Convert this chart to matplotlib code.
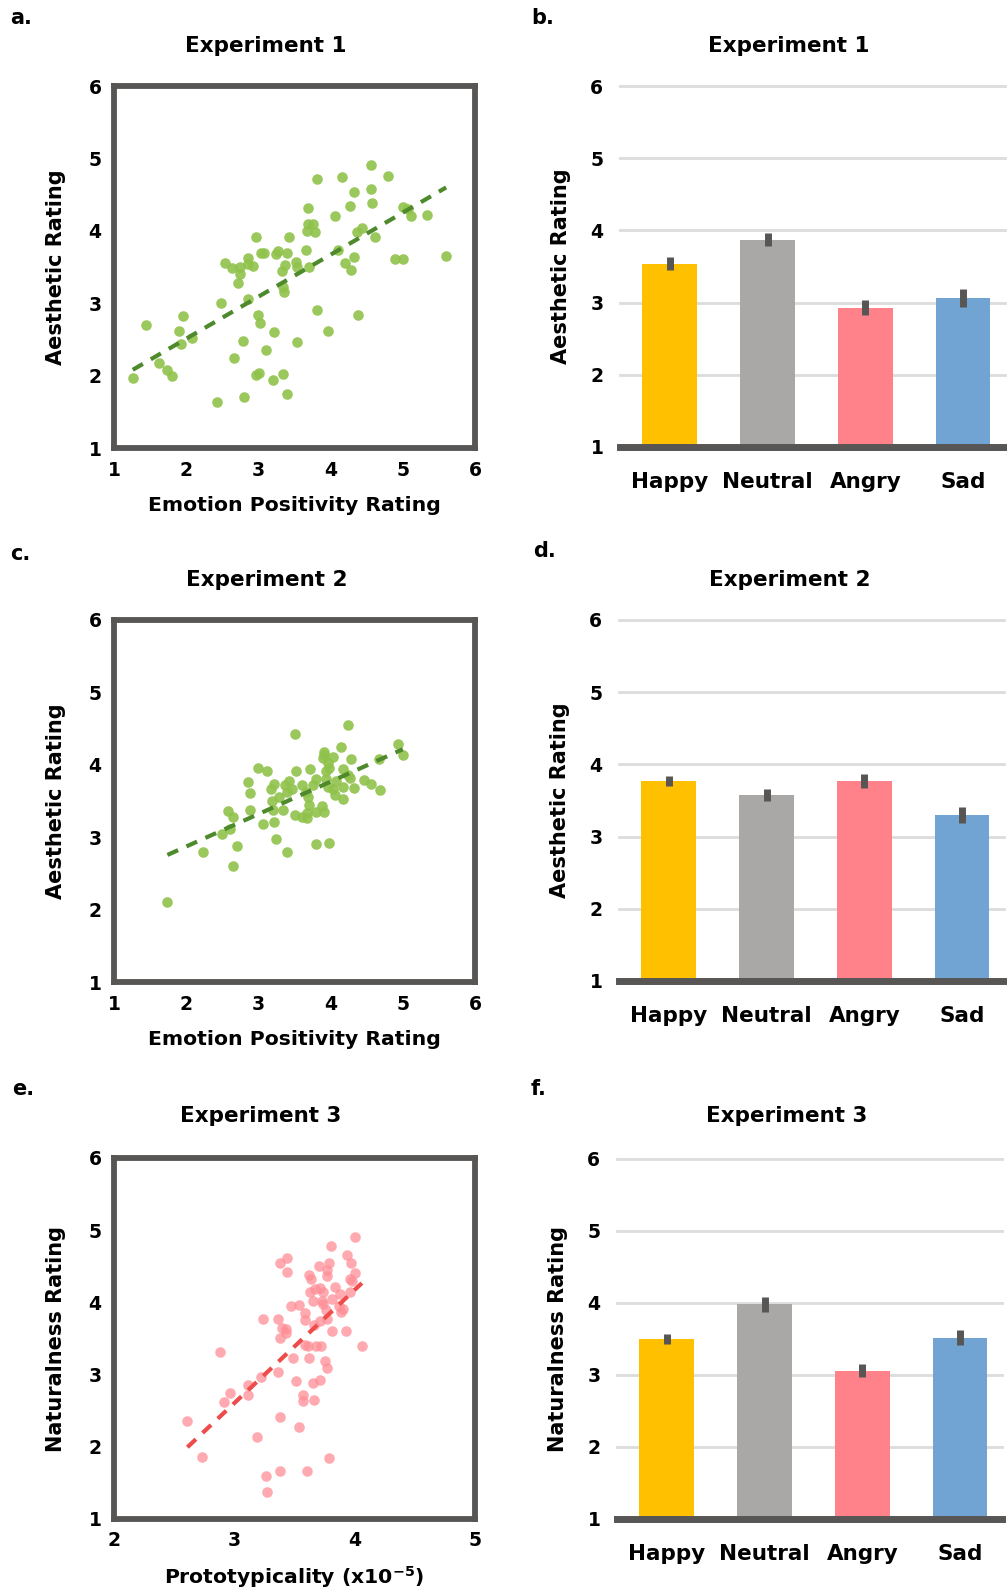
import matplotlib
matplotlib.use("Agg")
import matplotlib.pyplot as plt
import numpy as np

plt.rcParams['font.family'] = ['DejaVu Sans']
plt.rcParams['font.weight'] = 'bold'
plt.rcParams['mathtext.fontset'] = 'dejavusans'

# experiment 1: emotion positivity vs aesthetic rating (one dot per face)
exp1_pos = [1.26, 1.44, 1.62, 1.74, 1.80, 1.90, 1.96, 1.93, 2.08, 2.42, 2.48, 2.54, 2.64, 2.74,
            2.74, 2.72, 2.86, 2.86, 2.93, 2.86, 2.66, 2.78, 2.80, 2.96, 3.00, 3.02, 2.96, 3.01,
            3.10, 3.21, 3.20, 3.34, 3.40, 3.04, 3.08, 3.24, 3.27, 3.40, 3.42, 3.32, 3.37, 3.34,
            3.35, 3.52, 3.53, 3.66, 3.70, 3.54, 3.69, 3.69, 3.76, 3.68, 3.78, 3.81, 3.81, 3.96,
            4.06, 4.10, 4.16, 4.20, 4.28, 4.33, 4.27, 4.33, 4.36, 4.44, 4.38, 4.56, 4.56, 4.57,
            4.62, 4.80, 5.00, 5.07, 5.11, 5.34, 4.89, 5.00, 5.60]
exp1_aes = [1.96, 2.70, 2.18, 2.08, 2.00, 2.62, 2.82, 2.44, 2.52, 1.64, 3.00, 3.56, 3.49, 3.50,
            3.40, 3.28, 3.63, 3.54, 3.52, 3.06, 2.24, 2.48, 1.71, 3.91, 2.84, 2.72, 2.01, 2.04,
            2.36, 2.60, 1.94, 2.02, 1.74, 3.70, 3.70, 3.68, 3.72, 3.70, 3.92, 3.44, 3.53, 3.22,
            3.16, 3.57, 3.50, 3.73, 3.50, 2.46, 4.31, 4.10, 4.09, 4.00, 3.98, 4.71, 2.91, 2.62,
            4.21, 3.74, 4.75, 3.55, 3.46, 3.64, 4.34, 4.54, 3.98, 4.04, 2.84, 4.91, 4.58, 4.39,
            3.92, 4.76, 4.33, 4.30, 4.21, 4.22, 3.61, 3.61, 3.65]

# experiment 2
exp2_pos = [1.74, 2.23, 2.65, 2.71, 2.49, 2.60, 2.58, 2.65, 2.85, 2.88, 2.89, 3.00, 3.12, 3.06,
            3.24, 3.39, 3.22, 3.20, 3.19, 3.18, 3.22, 3.28, 3.34, 3.37, 3.43, 3.39, 3.46, 3.52,
            3.50, 3.50, 3.60, 3.68, 3.68, 3.60, 3.66, 3.69, 3.70, 3.72, 3.76, 3.80, 3.80, 3.88,
            3.91, 3.80, 3.98, 3.91, 3.91, 3.90, 3.96, 3.98, 3.93, 3.93, 3.96, 4.04, 4.03, 4.06,
            4.07, 4.14, 4.17, 4.17, 4.17, 4.24, 4.27, 4.24, 4.28, 4.32, 4.46, 4.56, 4.67, 4.68,
            4.94, 5.00]
exp2_aes = [2.10, 2.80, 2.60, 2.88, 3.04, 3.11, 3.36, 3.28, 3.76, 3.61, 3.37, 3.95, 3.91, 3.18,
            2.97, 2.80, 3.21, 3.38, 3.50, 3.66, 3.74, 3.55, 3.38, 3.72, 3.77, 3.62, 3.67, 3.91,
            4.43, 3.30, 3.28, 3.26, 3.33, 3.72, 3.63, 3.56, 3.44, 3.94, 3.72, 3.80, 3.35, 3.43,
            3.35, 2.91, 2.92, 4.18, 4.13, 4.09, 4.02, 3.95, 3.91, 3.80, 3.70, 4.11, 3.67, 3.58,
            3.78, 4.25, 3.94, 3.70, 3.53, 3.86, 3.82, 4.55, 4.08, 3.68, 3.79, 3.73, 4.08, 3.65,
            4.29, 4.13]

# experiment 3: prototypicality (x10^-5) vs naturalness
exp3_proto = [2.61, 2.73, 2.88, 2.91, 2.96, 3.11, 3.11, 3.19, 3.22, 3.24, 3.26, 3.27, 3.36, 3.36,
              3.38, 3.38, 3.38, 3.44, 3.44, 3.40, 3.43, 3.43, 3.38, 3.47, 3.54, 3.49, 3.51, 3.54,
              3.57, 3.57, 3.60, 3.59, 3.59, 3.59, 3.61, 3.62, 3.65, 3.66, 3.71, 3.75, 3.77, 3.62,
              3.64, 3.70, 3.63, 3.67, 3.71, 3.74, 3.65, 3.73, 3.74, 3.76, 3.71, 3.77, 3.66, 3.68,
              3.72, 3.79, 3.77, 3.77, 3.80, 3.81, 3.81, 3.79, 3.84, 3.88, 3.87, 3.89, 3.90, 3.93,
              3.94, 3.97, 3.96, 3.98, 4.00, 3.96, 4.00, 4.06]
exp3_nat = [2.36, 1.86, 3.31, 2.62, 2.75, 2.72, 2.85, 2.13, 2.97, 3.77, 1.60, 1.38, 3.03, 3.77,
            2.41, 1.66, 4.54, 4.62, 4.42, 3.65, 3.63, 3.57, 3.51, 3.95, 3.97, 3.23, 2.91, 2.27,
            2.72, 2.64, 1.66, 3.86, 3.75, 3.41, 3.40, 3.23, 2.89, 2.65, 2.93, 3.19, 3.09, 4.38,
            4.33, 4.51, 4.14, 4.18, 4.20, 4.14, 4.02, 4.02, 3.98, 3.90, 3.74, 3.77, 3.69, 3.39,
            3.39, 4.54, 4.45, 4.36, 4.78, 4.05, 3.61, 1.84, 4.22, 4.11, 3.95, 3.87, 3.91, 3.61,
            4.66, 4.54, 4.33, 4.30, 4.41, 4.14, 4.90, 3.39]

# mean ratings per emotion category, with error bars
emotions = ['Happy', 'Neutral', 'Angry', 'Sad']
exp1_means = [3.54, 3.87, 2.93, 3.06]
exp1_err = [0.09, 0.09, 0.10, 0.125]
exp2_means = [3.77, 3.58, 3.77, 3.30]
exp2_err = [0.07, 0.08, 0.10, 0.11]
exp3_means = [3.50, 3.98, 3.06, 3.52]
exp3_err = [0.065, 0.105, 0.09, 0.10]

bar_colors = ['#FFC000', '#A9A8A7', '#FF828A', '#71A3D3']
dark = '#585555'

W, H = 1007, 1593
fig = plt.figure(figsize=(W / 100, H / 100), dpi=100)


def px_axes(left, top, right, bottom):
    """add an axes given its pixel box in the figure"""
    return fig.add_axes([left / W, 1 - bottom / H, (right - left) / W, (bottom - top) / H])


def scatter_panel(ax, x, y, dot_color, line_color, xlim, xlabel, ylabel, alpha):
    ax.scatter(x, y, s=58, color=dot_color, alpha=alpha, linewidths=0, zorder=2)

    # least squares trend line across the data range
    slope, icpt = np.polyfit(x, y, 1)
    xs = np.array([min(x), max(x)])
    ax.plot(xs, slope * xs + icpt, color=line_color, lw=3,
            linestyle=(0, (2.8, 2.2)), dash_capstyle='butt', zorder=3)

    ax.set_xlim(*xlim)
    ax.set_ylim(1, 6)
    ax.set_xticks(range(xlim[0], xlim[1] + 1))
    ax.set_yticks(range(1, 7))
    for s in ax.spines.values():
        s.set_linewidth(4.2)
        s.set_color(dark)
    ax.tick_params(length=0, labelsize=13.5)
    ax.tick_params(axis='x', pad=9)
    ax.tick_params(axis='y', pad=9)
    ax.set_xlabel(xlabel, fontsize=14.7, fontweight='bold', va='center')
    ax.xaxis.set_label_coords(0.5, -0.16)
    ax.set_ylabel(ylabel, fontsize=15, fontweight='bold', va='center')
    ax.yaxis.set_label_coords(-0.161, 0.5)


def bar_panel(ax, means, err, ylabel):
    xs = np.arange(len(emotions))
    ax.bar(xs, means, width=0.56, color=bar_colors, zorder=2)
    ax.errorbar(xs, means, yerr=err, fmt='none', ecolor=dark, elinewidth=5, capsize=0, zorder=3)
    ax.set_xlim(-0.51, 3.43)
    ax.set_ylim(1, 6)
    ax.set_yticks(range(1, 7))
    ax.set_xticks(xs)
    ax.set_xticklabels(emotions)
    for v in range(2, 7):
        ax.axhline(v, color='#DCDCDC', lw=2, zorder=1, clip_on=False)
    ax.axhline(1, color=dark, lw=5, zorder=4, clip_on=False)
    for s in ax.spines.values():
        s.set_visible(False)
    ax.tick_params(length=0)
    ax.tick_params(axis='y', labelsize=13.5, pad=12)
    ax.tick_params(axis='x', labelsize=15.5, pad=18)
    ax.set_ylabel(ylabel, fontsize=15, fontweight='bold', va='center')
    ax.yaxis.set_label_coords(-0.153, 0.5)


green = '#8FC24B'
green_line = '#4E8A2C'
pink = '#FF8E96'
red_line = '#EE4B4B'

ax_a = px_axes(114, 86, 475, 448)
scatter_panel(ax_a, exp1_pos, exp1_aes, green, green_line, (1, 6),
              'Emotion Positivity Rating', 'Aesthetic Rating', 0.9)
ax_c = px_axes(114, 620, 475, 982)
scatter_panel(ax_c, exp2_pos, exp2_aes, green, green_line, (1, 6),
              'Emotion Positivity Rating', 'Aesthetic Rating', 0.9)
ax_e = px_axes(114, 1158, 475, 1519)
scatter_panel(ax_e, exp3_proto, exp3_nat, pink, red_line, (2, 5),
              r'Prototypicality (x10$^{\mathbf{-5}}$)', 'Naturalness Rating', 0.75)

ax_b = px_axes(620, 86, 1005, 447)
bar_panel(ax_b, exp1_means, exp1_err, 'Aesthetic Rating')
ax_d = px_axes(619, 620, 1004, 981)
bar_panel(ax_d, exp2_means, exp2_err, 'Aesthetic Rating')
ax_f = px_axes(617, 1159, 1002, 1519)
bar_panel(ax_f, exp3_means, exp3_err, 'Naturalness Rating')

# panel letters and titles, placed in pixel units
letters = [('a.', 10, 18), ('b.', 531, 18), ('c.', 10, 554),
           ('d.', 533, 551), ('e.', 12, 1089), ('f.', 531, 1089)]
for txt, x, y in letters:
    fig.text(x / W, 1 - y / H, txt, fontsize=15, fontweight='bold', ha='left', va='center')

titles = [('Experiment 1', 266, 46), ('Experiment 1', 789, 46),
          ('Experiment 2', 267, 580), ('Experiment 2', 790, 580),
          ('Experiment 3', 261, 1116), ('Experiment 3', 787, 1116)]
for txt, x, y in titles:
    fig.text(x / W, 1 - y / H, txt, fontsize=15.5, fontweight='bold', ha='center', va='center')

fig.savefig('out.png', dpi=100)
